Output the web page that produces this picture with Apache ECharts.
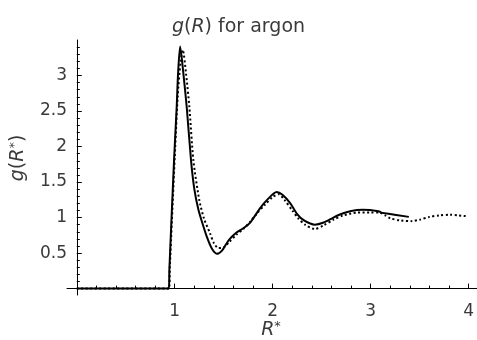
<!DOCTYPE html>
<html>
<head>
<meta charset="utf-8">
<style>
  html, body { margin: 0; padding: 0; background: #fff; }
  #chart { width: 477px; height: 340px; }
</style>
<script src="https://cdn.jsdelivr.net/npm/echarts@6/dist/echarts.min.js"></script>
</head>
<body>
<div id="chart"></div>
<script>
// Radial distribution function of argon: solid and dotted curves as [R*, g(R*)] pairs
const solidCurve = [
  [0, 0], [0.94, 0], [0.945, 0.26], [0.993, 1.81], [1.02, 2.56], [1.034, 3.03],
  [1.055, 3.41], [1.088, 3.03], [1.122, 2.56], [1.166, 1.81], [1.20, 1.40],
  [1.24, 1.12], [1.28, 0.93], [1.33, 0.72], [1.38, 0.56], [1.43, 0.49],
  [1.48, 0.53], [1.55, 0.68], [1.63, 0.79], [1.70, 0.85], [1.77, 0.93],
  [1.87, 1.13], [1.95, 1.26], [2.04, 1.36], [2.10, 1.32], [2.18, 1.20],
  [2.25, 1.05], [2.32, 0.96], [2.43, 0.90], [2.52, 0.93], [2.62, 1.00],
  [2.70, 1.05], [2.79, 1.09], [2.92, 1.11], [3.08, 1.09], [3.11, 1.07],
  [3.15, 1.06], [3.39, 1.01]
];
const dottedCurve = [
  [0, 0], [0.94, 0], [0.95, 0.3], [1.0, 1.85], [1.03, 2.7], [1.06, 3.2],
  [1.082, 3.36], [1.115, 3.03], [1.149, 2.56], [1.19, 1.81], [1.25, 1.25],
  [1.30, 0.98], [1.36, 0.78], [1.40, 0.64], [1.445, 0.57], [1.50, 0.58],
  [1.56, 0.66], [1.63, 0.76], [1.70, 0.84], [1.77, 0.94], [1.84, 1.06],
  [1.92, 1.18], [2.00, 1.29], [2.06, 1.33], [2.12, 1.25], [2.20, 1.10],
  [2.26, 0.99], [2.33, 0.90], [2.43, 0.84], [2.52, 0.89], [2.62, 0.97],
  [2.72, 1.03], [2.86, 1.07], [3.00, 1.07], [3.09, 1.07], [3.15, 1.03],
  [3.20, 0.99], [3.30, 0.96], [3.42, 0.95], [3.50, 0.97], [3.60, 1.01],
  [3.70, 1.03], [3.81, 1.04], [3.90, 1.03], [3.98, 1.02]
];

// Tick positions
const xMajorTicks = [1, 2, 3, 4];
const xMinorTicks = [0.2, 0.4, 0.6, 0.8, 1.2, 1.4, 1.6, 1.8, 2.2, 2.4, 2.6, 2.8,
                     3.2, 3.4, 3.6, 3.8, 4.0];
const yMajorTicks = [0.5, 1, 1.5, 2, 2.5, 3];
const yMinorTicks = [0.1, 0.2, 0.3, 0.4, 0.6, 0.7, 0.8, 0.9, 1.1, 1.2, 1.3, 1.4,
                     1.6, 1.7, 1.8, 1.9, 2.1, 2.2, 2.3, 2.4, 2.6, 2.7, 2.8, 2.9,
                     3.1, 3.2, 3.3, 3.4];

const X_MIN = -0.1, X_MAX = 4.085, Y_MIN = -0.09, Y_MAX = 3.5;
const FONT = '"DejaVu Sans", "Liberation Sans", sans-serif';
const TXT = '#3a3a3a';
const TICK_SIZE = 17, TITLE_SIZE = 19, NAME_SIZE = 19;
const gridBox = { left: 67, top: 40, width: 410, height: 255 };

const chart = echarts.init(document.getElementById('chart'), null, { renderer: 'canvas' });

function axisDef(gridIndex, min, max, ticks, len, labels, margin) {
  return {
    type: 'value', gridIndex, min, max,
    axisLine: { show: labels, onZero: true, lineStyle: { color: '#000', width: 1 } },
    axisTick: { show: true, inside: true, length: len, customValues: ticks,
                lineStyle: { color: '#000', width: 1 } },
    axisLabel: { show: labels, customValues: labels ? ticks : [], margin,
                 fontFamily: FONT, fontSize: TICK_SIZE, color: TXT },
    splitLine: { show: false }
  };
}

function italic(size) {
  return { fontFamily: FONT, fontSize: size, fontStyle: 'italic', color: TXT, fill: TXT };
}
// small raised asterisk used in R*
const sup = { fontFamily: FONT, fontSize: 13, verticalAlign: 'top', color: TXT, fill: TXT };

chart.setOption({
  animation: false,
  backgroundColor: '#fff',
  title: {
    text: '{i|g}({i|R}) for argon',
    left: 'center', top: 13,
    textStyle: { fontFamily: FONT, fontWeight: 'normal', fontSize: TITLE_SIZE, color: TXT,
                 rich: { i: italic(TITLE_SIZE) } }
  },
  grid: [Object.assign({}, gridBox), Object.assign({}, gridBox)],
  xAxis: [
    axisDef(0, X_MIN, X_MAX, xMajorTicks, 5, true, 8),
    axisDef(1, X_MIN, X_MAX, xMinorTicks, 3, false, 8)
  ],
  yAxis: [
    axisDef(0, Y_MIN, Y_MAX, yMajorTicks, 5, true, 0),
    axisDef(1, Y_MIN, Y_MAX, yMinorTicks, 3, false, 0)
  ],
  graphic: [
    {
      type: 'text', x: 18, y: 158, rotation: Math.PI / 2,
      style: {
        text: '{i|g}({i|R}{s|*})', fill: TXT, align: 'center', verticalAlign: 'middle',
        font: NAME_SIZE + 'px ' + FONT, rich: { i: italic(NAME_SIZE), s: sup }
      }
    },
    {
      type: 'text', x: 271, y: 330,
      style: {
        text: '{i|R}{s|*}', fill: TXT, align: 'center', verticalAlign: 'middle',
        font: NAME_SIZE + 'px ' + FONT, rich: { i: italic(NAME_SIZE), s: sup }
      }
    }
  ],
  series: [
    {
      type: 'line', xAxisIndex: 0, yAxisIndex: 0, data: solidCurve,
      showSymbol: false, smooth: 0.25,
      lineStyle: { color: '#000', width: 2 }
    },
    {
      type: 'line', xAxisIndex: 0, yAxisIndex: 0, data: dottedCurve,
      showSymbol: false, smooth: 0.25,
      lineStyle: { color: '#000', width: 2, type: [2, 2.5], cap: 'butt' }
    }
  ]
});
</script>
</body>
</html>
